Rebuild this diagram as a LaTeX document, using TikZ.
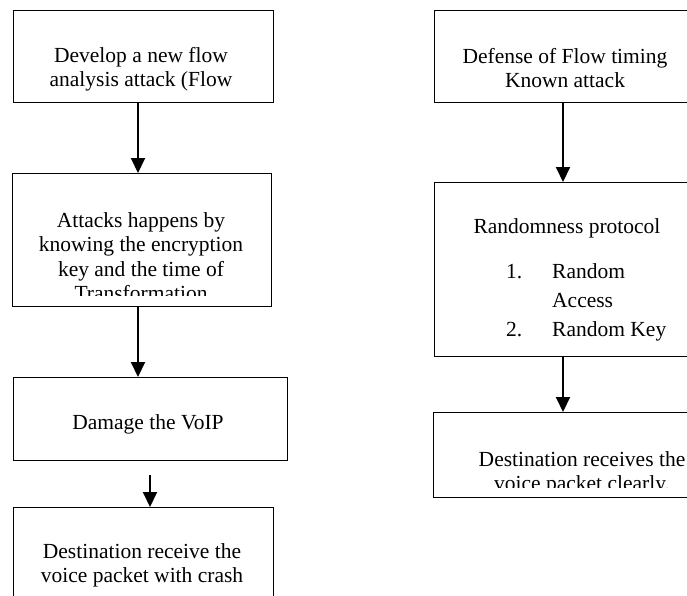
\documentclass[tikz,border=0pt]{standalone}
\usepackage{fontspec}
\setmainfont{Liberation Serif}
\usetikzlibrary{arrows.meta}
\newcommand{\boxlines}[1]{\parbox[t]{300pt}{\centering #1}}
\begin{document}
\begin{tikzpicture}[x=1pt,y=-1pt,
  boxstyle/.style={draw, line width=1.3pt, inner sep=0pt, anchor=north west},
  flowarrow/.style={line width=2pt, -{Triangle[width=14pt,length=15pt]}},
  txt/.style={inner sep=0pt, anchor=base, font=\fontsize{21.5}{24.5}\selectfont}
]
\useasboundingbox (0,0) rectangle (687,595);

% left column boxes
\node[boxstyle, minimum width=260pt, minimum height=92pt]  (b1) at (13,10) {};
\node[boxstyle, minimum width=259pt, minimum height=133pt] (b2) at (12,173) {};
\node[boxstyle, minimum width=274pt, minimum height=83pt]  (b3) at (13,377) {};
\node[boxstyle, minimum width=260pt, minimum height=120pt] (b4) at (13,507) {};
% right column boxes
\node[boxstyle, minimum width=262pt, minimum height=92pt]  (b5) at (434,10) {};
\node[boxstyle, minimum width=266pt, minimum height=174pt] (b6) at (434,182) {};
\node[boxstyle, minimum width=298pt, minimum height=85pt]  (b7) at (433,412) {};

% texts
\node[txt] (t1) at (141,62) {\boxlines{Develop a new flow\\analysis attack (Flow}};
\begin{scope}
  \clip (12,173) rectangle (271,295);
  \node[txt] (t2) at (141,227) {\boxlines{Attacks happens by\\knowing the encryption\\key and the time of\\Transformation}};
\end{scope}
\node[txt] (t3) at (148,429) {\boxlines{Damage the VoIP}};
\node[txt] (t4) at (142,558) {\boxlines{Destination receive the\\voice packet with crash}};

\node[txt] (t5) at (565,63) {\boxlines{Defense of Flow timing\\Known attack}};
\node[txt] (t6) at (567,233) {\boxlines{Randomness protocol}};
\node[txt, anchor=base west] (n1) at (506,278) {1.};
\node[txt, anchor=base west] (i1) at (552,278) {Random};
\node[txt, anchor=base west] (i1b) at (552,307) {Access};
\node[txt, anchor=base west] (n2) at (506,336) {2.};
\node[txt, anchor=base west] (i2) at (552,336) {Random Key};
\begin{scope}
  \clip (433,412) rectangle (700,487);
  \node[txt] (t7) at (582,466) {\boxlines{Destination receives the\\voice packet clearly.}};
\end{scope}

% arrow columns
\coordinate (ca) at (138,0);
\coordinate (cb) at (150,0);
\coordinate (cc) at (563,0);
\coordinate (s3) at (150,475);

\draw[flowarrow] (b1.south -| ca) -- (b2.north -| ca);
\draw[flowarrow] (b2.south -| ca) -- (b3.north -| ca);
\draw[flowarrow] (s3) -- (b4.north -| cb);
\draw[flowarrow] (b5.south -| cc) -- (b6.north -| cc);
\draw[flowarrow] (b6.south -| cc) -- (b7.north -| cc);
\end{tikzpicture}
\end{document}
